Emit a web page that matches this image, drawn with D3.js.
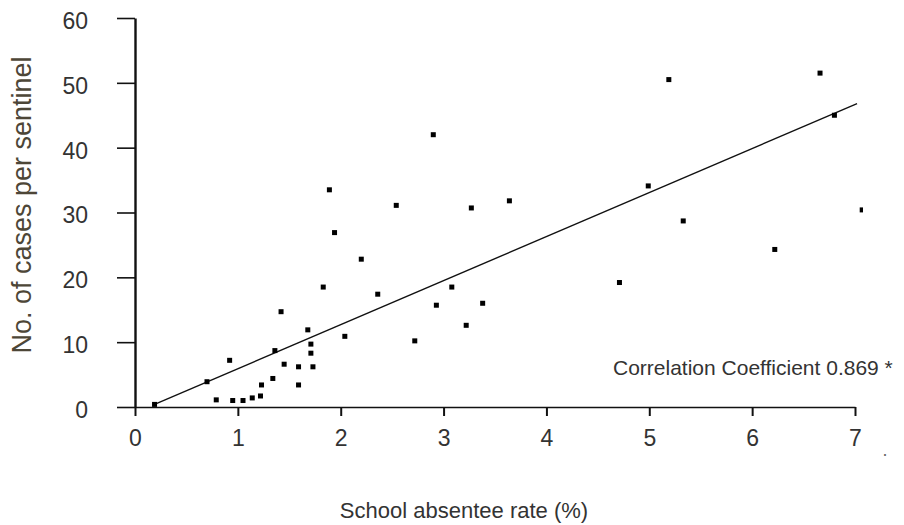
<!DOCTYPE html>
<html>
<head>
<meta charset="utf-8">
<script src="https://cdn.jsdelivr.net/npm/d3@7"></script>
<style>
  body { margin: 0; background: #fff; }
  svg { display: block; }
  text { font-family: "Liberation Sans", Arial, sans-serif; }
</style>
</head>
<body>
<div id="chart"></div>
<script>
// absentee rate (%) per sentinel week
const absenteeRate = [
  0.19, 0.70, 0.79, 0.92, 0.95, 1.05, 1.14, 1.22, 1.23, 1.34,
  1.36, 1.42, 1.45, 1.59, 1.59, 1.68, 1.71, 1.71, 1.73, 1.83,
  1.89, 1.94, 2.04, 2.20, 2.36, 2.54, 2.72, 2.90, 2.93, 3.08,
  3.22, 3.27, 3.38, 3.64, 4.71, 4.99, 5.19, 5.33, 6.22, 6.66,
  6.80, 7.07
];
const casesPerSentinel = [
  0.4, 3.9, 1.1, 7.2, 1.0, 1.0, 1.4, 1.7, 3.4, 4.4,
  8.7, 14.7, 6.6, 6.2, 3.4, 11.9, 9.7, 8.3, 6.2, 18.5,
  33.5, 26.9, 10.9, 22.8, 17.4, 31.1, 10.2, 42.0, 15.7, 18.5,
  12.6, 30.7, 16.0, 31.8, 19.2, 34.1, 50.5, 28.7, 24.3, 51.5,
  45.0, 30.4
];
// ends of the fitted line
const fitX = [0.19, 7.02];
const fitY = [0.4, 46.8];

const xTicks = [0, 1, 2, 3, 4, 5, 6, 7];
const yTicks = [0, 10, 20, 30, 40, 50, 60];
const xTitle = "School absentee rate (%)";
const yTitle = "No. of cases per sentinel";
const noteText = "Correlation Coefficient 0.869 *";

const width = 904;
const height = 525;

const x = d3.scaleLinear().domain([0, 7]).range([135, 855]);
const y = d3.scaleLinear().domain([0, 60]).range([407, 18]);

const svg = d3.select("#chart")
  .append("svg")
  .attr("width", width)
  .attr("height", height)
  .attr("viewBox", [0, 0, width, height]);

svg.append("defs").append("clipPath")
  .attr("id", "plotClip")
  .append("rect")
  .attr("x", 136).attr("y", 0)
  .attr("width", 727).attr("height", 410);

// x axis
const xAxis = svg.append("g")
  .attr("transform", `translate(0,${y(0)})`)
  .call(d3.axisBottom(x).tickValues(xTicks).tickFormat(d3.format("d"))
    .tickSize(9).tickSizeOuter(0).tickPadding(14));
xAxis.select(".domain").attr("stroke", "#111").attr("stroke-width", 1.6);
xAxis.selectAll(".tick line").attr("stroke", "#111").attr("stroke-width", 2);
xAxis.selectAll(".tick text")
  .attr("font-size", 23)
  .attr("fill", "#333")
  .attr("font-family", "Liberation Sans, Arial, sans-serif");

// y axis
const yAxis = svg.append("g")
  .attr("transform", `translate(${x(0)},0)`)
  .call(d3.axisLeft(y).tickValues(yTicks).tickFormat(d3.format("d"))
    .tickSize(18).tickSizeOuter(0).tickPadding(29));
yAxis.select(".domain").attr("stroke", "#111").attr("stroke-width", 2.4);
yAxis.selectAll(".tick line").attr("stroke", "#111").attr("stroke-width", 1.6);
yAxis.selectAll(".tick text")
  .attr("font-size", 23)
  .attr("fill", "#333")
  .attr("dy", "0.45em")
  .attr("font-family", "Liberation Sans, Arial, sans-serif");

// fitted line
svg.append("line")
  .attr("x1", x(fitX[0])).attr("y1", y(fitY[0]))
  .attr("x2", x(fitX[1])).attr("y2", y(fitY[1]))
  .attr("stroke", "#111")
  .attr("stroke-width", 1.4);

// points
const points = absenteeRate.map((v, i) => ({ rate: v, cases: casesPerSentinel[i] }));
svg.append("g")
  .attr("clip-path", "url(#plotClip)")
  .selectAll("rect")
  .data(points)
  .enter()
  .append("rect")
  .attr("x", d => x(d.rate) - 2.5)
  .attr("y", d => y(d.cases) - 2.5)
  .attr("width", 5)
  .attr("height", 5)
  .attr("fill", "#000");

// titles
svg.append("text")
  .attr("x", 464)
  .attr("y", 518)
  .attr("text-anchor", "middle")
  .attr("font-size", 22)
  .attr("fill", "#333")
  .text(xTitle);

svg.append("text")
  .attr("transform", "translate(31,205) rotate(-90)")
  .attr("text-anchor", "middle")
  .attr("font-size", 27)
  .attr("fill", "#4d4637")
  .text(yTitle);

svg.append("text")
  .attr("x", 613)
  .attr("y", 375)
  .attr("font-size", 21)
  .attr("fill", "#333")
  .text(noteText);

svg.append("text")
  .attr("x", 885)
  .attr("y", 460)
  .attr("text-anchor", "middle")
  .attr("font-size", 18)
  .attr("fill", "#666")
  .text("·");
</script>
</body>
</html>
